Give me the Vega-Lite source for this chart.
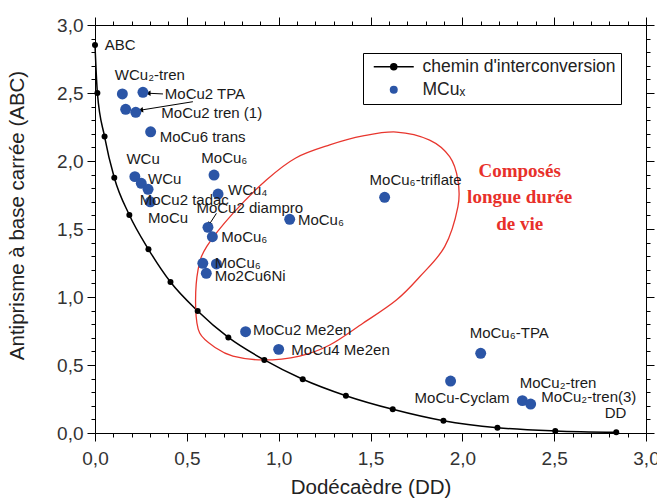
{
  "$schema": "https://vega.github.io/schema/vega-lite/v6.json",
  "width": 551,
  "height": 408,
  "autosize": {"type": "none"},
  "padding": {"left": 95, "top": 25, "right": 11, "bottom": 67},
  "config": {
    "font": "Liberation Sans",
    "view": {"stroke": null},
    "axis": {"domainColor": "black", "tickColor": "black", "domainWidth": 1, "tickWidth": 1, "grid": false}
  },
  "datasets": {
    "path": [
      {"x": 0, "y": 2.853}, {"x": 0.013, "y": 2.5}, {"x": 0.052, "y": 2.18}, {"x": 0.105, "y": 1.877},
      {"x": 0.187, "y": 1.603}, {"x": 0.291, "y": 1.351}, {"x": 0.411, "y": 1.11}, {"x": 0.559, "y": 0.897},
      {"x": 0.726, "y": 0.703}, {"x": 0.922, "y": 0.537}, {"x": 1.131, "y": 0.395}, {"x": 1.366, "y": 0.274},
      {"x": 1.621, "y": 0.174}, {"x": 1.897, "y": 0.09}, {"x": 2.191, "y": 0.039}, {"x": 2.506, "y": 0.015},
      {"x": 2.838, "y": 0.005}
    ],
    "pts": [
      {"x": 0.149, "y": 2.493, "series": "MCuₓ"}, {"x": 0.261, "y": 2.505, "series": "MCuₓ"},
      {"x": 0.167, "y": 2.38, "series": "MCuₓ"}, {"x": 0.222, "y": 2.358, "series": "MCuₓ"},
      {"x": 0.303, "y": 2.215, "series": "MCuₓ"}, {"x": 0.217, "y": 1.885, "series": "MCuₓ"},
      {"x": 0.252, "y": 1.836, "series": "MCuₓ"}, {"x": 0.289, "y": 1.792, "series": "MCuₓ"},
      {"x": 0.301, "y": 1.7, "series": "MCuₓ"}, {"x": 0.648, "y": 1.897, "series": "MCuₓ"},
      {"x": 0.67, "y": 1.757, "series": "MCuₓ"}, {"x": 0.615, "y": 1.512, "series": "MCuₓ"},
      {"x": 0.639, "y": 1.443, "series": "MCuₓ"}, {"x": 1.06, "y": 1.571, "series": "MCuₓ"},
      {"x": 0.587, "y": 1.248, "series": "MCuₓ"}, {"x": 0.661, "y": 1.243, "series": "MCuₓ"},
      {"x": 0.606, "y": 1.174, "series": "MCuₓ"}, {"x": 0.82, "y": 0.745, "series": "MCuₓ"},
      {"x": 1.0, "y": 0.615, "series": "MCuₓ"}, {"x": 1.577, "y": 1.733, "series": "MCuₓ"},
      {"x": 2.1, "y": 0.586, "series": "MCuₓ"}, {"x": 1.936, "y": 0.382, "series": "MCuₓ"},
      {"x": 2.327, "y": 0.238, "series": "MCuₓ"}, {"x": 2.372, "y": 0.213, "series": "MCuₓ"}
    ],
    "labels": [
      {"x": 0.053, "y": 2.853, "t": "ABC"},
      {"x": 0.108, "y": 2.632, "t": "WCu₂-tren"},
      {"x": 0.38, "y": 2.493, "t": "MoCu2 TPA"},
      {"x": 0.361, "y": 2.351, "t": "MoCu2 tren (1)"},
      {"x": 0.352, "y": 2.174, "t": "MoCu6 trans"},
      {"x": 0.171, "y": 2.012, "t": "WCu"},
      {"x": 0.289, "y": 1.865, "t": "WCu"},
      {"x": 0.243, "y": 1.713, "t": "MoCu2 tadac"},
      {"x": 0.289, "y": 1.579, "t": "MoCu"},
      {"x": 0.579, "y": 2.02, "t": "MoCu₆"},
      {"x": 0.724, "y": 1.787, "t": "WCu₄"},
      {"x": 0.552, "y": 1.652, "t": "MoCu2 diampro"},
      {"x": 0.688, "y": 1.439, "t": "MoCu₆"},
      {"x": 1.105, "y": 1.566, "t": "MoCu₆"},
      {"x": 0.652, "y": 1.248, "t": "MoCu₆"},
      {"x": 0.652, "y": 1.154, "t": "Mo2Cu6Ni"},
      {"x": 0.86, "y": 0.757, "t": "MoCu2 Me2en"},
      {"x": 1.069, "y": 0.61, "t": "MoCu4 Me2en"},
      {"x": 1.495, "y": 1.86, "t": "MoCu₆-triflate"},
      {"x": 2.04, "y": 0.733, "t": "MoCu₆-TPA"},
      {"x": 1.74, "y": 0.255, "t": "MoCu-Cyclam"},
      {"x": 2.312, "y": 0.37, "t": "MoCu₂-tren"},
      {"x": 2.43, "y": 0.267, "t": "MoCu₂-tren(3)"},
      {"x": 2.775, "y": 0.149, "t": "DD"}
    ],
    "ellipse": [
      {"i": 1, "x": 0.548, "y": 0.929}, {"i": 2, "x": 0.561, "y": 1.199}, {"i": 3, "x": 0.608, "y": 1.37},
      {"i": 4, "x": 0.751, "y": 1.615}, {"i": 5, "x": 0.933, "y": 1.86}, {"i": 6, "x": 1.093, "y": 2.022},
      {"i": 7, "x": 1.278, "y": 2.118}, {"i": 8, "x": 1.459, "y": 2.184}, {"i": 9, "x": 1.641, "y": 2.213},
      {"i": 10, "x": 1.822, "y": 2.154}, {"i": 11, "x": 1.931, "y": 2.032}, {"i": 12, "x": 1.976, "y": 1.86},
      {"i": 13, "x": 1.976, "y": 1.664}, {"i": 14, "x": 1.904, "y": 1.37}, {"i": 15, "x": 1.768, "y": 1.149},
      {"i": 16, "x": 1.641, "y": 0.978}, {"i": 17, "x": 1.459, "y": 0.807}, {"i": 18, "x": 1.278, "y": 0.647},
      {"i": 19, "x": 1.114, "y": 0.566}, {"i": 20, "x": 0.915, "y": 0.537}, {"i": 21, "x": 0.751, "y": 0.566},
      {"i": 22, "x": 0.661, "y": 0.623}, {"i": 23, "x": 0.57, "y": 0.735}
    ],
    "arrows": [
      {"k": 1, "x": 0.294, "y": 2.498, "x2": 0.37, "y2": 2.493},
      {"k": 2, "x": 0.253, "y": 2.375, "x2": 0.533, "y2": 2.436},
      {"k": 3, "x": 0.624, "y": 1.537, "x2": 0.661, "y2": 1.615}
    ],
    "note": [
      {"x": 2.312, "y": 1.929, "t": "Composés\nlongue durée\nde vie"}
    ]
  },
  "resolve": {"axis": {"x": "independent", "y": "independent"}},
  "layer": [
    {
      "data": {"name": "path"},
      "mark": {"type": "line", "color": "black", "strokeWidth": 1.5, "interpolate": "monotone"},
      "encoding": {
        "x": {"field": "x", "type": "quantitative", "scale": {"domain": [0, 3], "nice": false, "zero": false},
          "axis": {"orient": "bottom", "values": [0,0.1,0.2,0.3,0.4,0.5,0.6,0.7,0.8,0.9,1,1.1,1.2,1.3,1.4,1.5,1.6,1.7,1.8,1.9,2,2.1,2.2,2.3,2.4,2.5,2.6,2.7,2.8,2.9,3],
            "labelExpr": "abs(datum.value*2-round(datum.value*2))<0.01 ? replace(format(datum.value,'.1f'),'.',',') : ''",
            "labelOverlap": false, "labelFlush": false, "labelFontSize": 19, "labelColor": "#333", "labelPadding": 8,
            "tickSize": {"condition": {"test": "abs(datum.value*2-round(datum.value*2))<0.01", "value": 8}, "value": 4},
            "title": "Dodécaèdre (DD)", "titleFontSize": 20.5, "titleFontWeight": "normal", "titleColor": "#222",
            "titleY": 54, "titleBaseline": "middle"}},
        "y": {"field": "y", "type": "quantitative", "scale": {"domain": [0, 3], "nice": false, "zero": false},
          "axis": {"orient": "left", "values": [0,0.1,0.2,0.3,0.4,0.5,0.6,0.7,0.8,0.9,1,1.1,1.2,1.3,1.4,1.5,1.6,1.7,1.8,1.9,2,2.1,2.2,2.3,2.4,2.5,2.6,2.7,2.8,2.9,3],
            "labelExpr": "abs(datum.value*2-round(datum.value*2))<0.01 ? replace(format(datum.value,'.1f'),'.',',') : ''",
            "labelOverlap": false, "labelFlush": false, "labelFontSize": 19, "labelColor": "#333", "labelPadding": 4,
            "tickSize": {"condition": {"test": "abs(datum.value*2-round(datum.value*2))<0.01", "value": 8}, "value": 4},
            "title": "Antiprisme à base carrée (ABC)", "titleFontSize": 20.5, "titleFontWeight": "normal", "titleColor": "#222",
            "titleX": -78, "titleY": 190, "titleBaseline": "middle"}}
      }
    },
    {
      "data": {"name": "ellipse"},
      "mark": {"type": "line", "color": "#e8362e", "strokeWidth": 1.3, "interpolate": "cardinal-closed"},
      "encoding": {
        "x": {"field": "x", "type": "quantitative",
          "axis": {"orient": "top", "values": [0,0.1,0.2,0.3,0.4,0.5,0.6,0.7,0.8,0.9,1,1.1,1.2,1.3,1.4,1.5,1.6,1.7,1.8,1.9,2,2.1,2.2,2.3,2.4,2.5,2.6,2.7,2.8,2.9,3],
            "labels": false, "title": null,
            "tickSize": {"condition": {"test": "abs(datum.value*2-round(datum.value*2))<0.01", "value": 8}, "value": 4}}},
        "y": {"field": "y", "type": "quantitative",
          "axis": {"orient": "right", "values": [0,0.1,0.2,0.3,0.4,0.5,0.6,0.7,0.8,0.9,1,1.1,1.2,1.3,1.4,1.5,1.6,1.7,1.8,1.9,2,2.1,2.2,2.3,2.4,2.5,2.6,2.7,2.8,2.9,3],
            "labels": false, "title": null,
            "tickSize": {"condition": {"test": "abs(datum.value*2-round(datum.value*2))<0.01", "value": 8}, "value": 4}}},
        "order": {"field": "i", "type": "quantitative"}
      }
    },
    {
      "data": {"name": "path"},
      "mark": {"type": "point", "filled": true, "color": "black", "size": 36, "opacity": 1},
      "encoding": {
        "x": {"field": "x", "type": "quantitative", "axis": null},
        "y": {"field": "y", "type": "quantitative", "axis": null}
      }
    },
    {
      "data": {"name": "arrows"},
      "mark": {"type": "rule", "color": "black", "strokeWidth": 1},
      "encoding": {
        "x": {"field": "x", "type": "quantitative", "axis": null},
        "y": {"field": "y", "type": "quantitative", "axis": null},
        "x2": {"field": "x2"},
        "y2": {"field": "y2"}
      }
    },
    {
      "data": {"name": "arrows"},
      "transform": [{"filter": "datum.k == 1"}],
      "mark": {"type": "point", "shape": "triangle", "angle": 270, "filled": true, "color": "black", "size": 30, "opacity": 1},
      "encoding": {
        "x": {"field": "x", "type": "quantitative", "axis": null},
        "y": {"field": "y", "type": "quantitative", "axis": null}
      }
    },
    {
      "data": {"name": "arrows"},
      "transform": [{"filter": "datum.k == 2"}],
      "mark": {"type": "point", "shape": "triangle", "angle": 261, "filled": true, "color": "black", "size": 30, "opacity": 1},
      "encoding": {
        "x": {"field": "x", "type": "quantitative", "axis": null},
        "y": {"field": "y", "type": "quantitative", "axis": null}
      }
    },
    {
      "data": {"name": "arrows"},
      "transform": [{"filter": "datum.k == 3"}],
      "mark": {"type": "point", "shape": "triangle", "angle": 212, "filled": true, "color": "black", "size": 30, "opacity": 1},
      "encoding": {
        "x": {"field": "x", "type": "quantitative", "axis": null},
        "y": {"field": "y", "type": "quantitative", "axis": null}
      }
    },
    {
      "data": {"name": "pts"},
      "mark": {"type": "point", "filled": true, "size": 120, "opacity": 1},
      "encoding": {
        "x": {"field": "x", "type": "quantitative", "axis": null},
        "y": {"field": "y", "type": "quantitative", "axis": null},
        "color": {"field": "series", "type": "nominal",
          "scale": {"domain": ["chemin d'interconversion", "MCuₓ"], "range": ["black", "#2b55a6"]},
          "legend": {"orient": "none", "legendX": 268, "legendY": 28, "title": null,
            "labelFontSize": 17.5, "labelColor": "#222", "labelFont": "Liberation Sans", "labelLimit": 400,
            "strokeColor": "black", "fillColor": "white", "padding": 5, "rowPadding": 4,
            "symbolOffset": 17, "labelOffset": 20, "symbolSize": 64, "symbolOpacity": 1,
            "encode": {"symbols": {"update": {
              "stroke": {"signal": "datum.value === 'MCuₓ' ? 'transparent' : 'black'"},
              "strokeWidth": {"value": 1.5}}}}}},
        "shape": {"field": "series", "type": "nominal",
          "scale": {"domain": ["chemin d'interconversion", "MCuₓ"], "range": ["M-5,0L5,0M-0.75,0A0.75,0.75,0,1,1,0.75,0A0.75,0.75,0,1,1,-0.75,0Z", "circle"]},
          "legend": {"orient": "none", "legendX": 268, "legendY": 28, "title": null, "labelLimit": 400}}
      }
    },
    {
      "data": {"name": "labels"},
      "mark": {"type": "text", "align": "left", "baseline": "middle", "fontSize": 15, "font": "Liberation Sans", "color": "#1a1a1a"},
      "encoding": {
        "x": {"field": "x", "type": "quantitative", "axis": null},
        "y": {"field": "y", "type": "quantitative", "axis": null},
        "text": {"field": "t"}
      }
    },
    {
      "data": {"name": "note"},
      "mark": {"type": "text", "align": "center", "baseline": "middle", "lineBreak": "\n", "lineHeight": 26.7,
        "fontSize": 19, "font": "Liberation Serif", "fontWeight": "bold", "color": "#e8302a"},
      "encoding": {
        "x": {"field": "x", "type": "quantitative", "axis": null},
        "y": {"field": "y", "type": "quantitative", "axis": null},
        "text": {"field": "t"}
      }
    }
  ]
}
